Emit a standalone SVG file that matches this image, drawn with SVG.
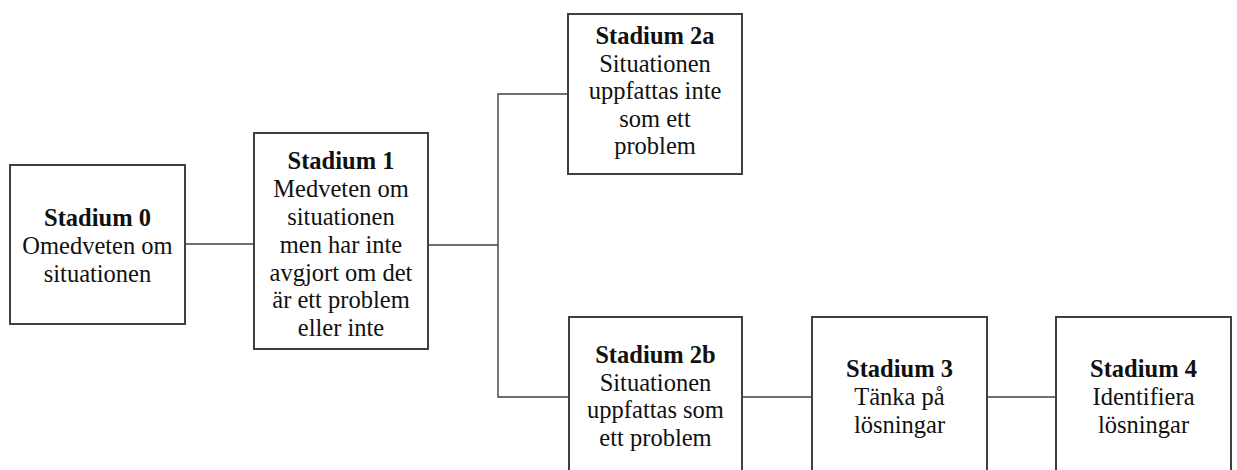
<svg xmlns="http://www.w3.org/2000/svg" width="1237" height="470" viewBox="0 0 1237 470">
<style>
.box{fill:#fff;stroke:#404040;stroke-width:2}
.ln{fill:none;stroke:#404040;stroke-width:1.4}
text{font-family:"Liberation Serif","Times New Roman",serif;font-size:24.5px;fill:#111;text-anchor:middle}
.b{font-weight:bold}
</style>
<rect width="1237" height="470" fill="#fff"/>
<g id="connectors">
<line class="ln" x1="185" y1="244" x2="254" y2="244"/>
<line class="ln" x1="428" y1="245" x2="498" y2="245"/>
<polyline class="ln" points="568,94 498,94 498,397 569,397"/>
<line class="ln" x1="742" y1="397" x2="812" y2="397"/>
<line class="ln" x1="987" y1="397" x2="1056" y2="397"/>
</g>
<g id="stadium0">
<rect class="box" x="10" y="165" width="175" height="159"/>
<text x="97.5" y="225.5" class="b">Stadium 0</text>
<text x="97.5" y="253.5">Omedveten om</text>
<text x="97.5" y="281.5">situationen</text>
</g>
<g id="stadium1">
<rect class="box" x="254" y="133" width="174" height="216"/>
<text x="341" y="169.3" class="b">Stadium 1</text>
<text x="341" y="197.1">Medveten om</text>
<text x="341" y="224.9">situationen</text>
<text x="341" y="252.7">men har inte</text>
<text x="341" y="280.5">avgjort om det</text>
<text x="341" y="308.3">är ett problem</text>
<text x="341" y="336.1">eller inte</text>
</g>
<g id="stadium2a">
<rect class="box" x="568" y="14" width="174" height="160"/>
<text x="655" y="44.3" class="b">Stadium 2a</text>
<text x="655" y="71.8">Situationen</text>
<text x="655" y="99.3">uppfattas inte</text>
<text x="655" y="126.8">som ett</text>
<text x="655" y="154.3">problem</text>
</g>
<g id="stadium2b">
<rect class="box" x="569" y="317" width="173" height="162"/>
<text x="655.5" y="362.7" class="b">Stadium 2b</text>
<text x="655.5" y="390.5">Situationen</text>
<text x="655.5" y="418.3">uppfattas som</text>
<text x="655.5" y="446.1">ett problem</text>
</g>
<g id="stadium3">
<rect class="box" x="812" y="317" width="175" height="162"/>
<text x="899.5" y="377.3" class="b">Stadium 3</text>
<text x="899.5" y="405">Tänka på</text>
<text x="899.5" y="432.7">lösningar</text>
</g>
<g id="stadium4">
<rect class="box" x="1056" y="317" width="175" height="162"/>
<text x="1143.5" y="377.3" class="b">Stadium 4</text>
<text x="1143.5" y="405">Identifiera</text>
<text x="1143.5" y="432.7">lösningar</text>
</g>
</svg>
